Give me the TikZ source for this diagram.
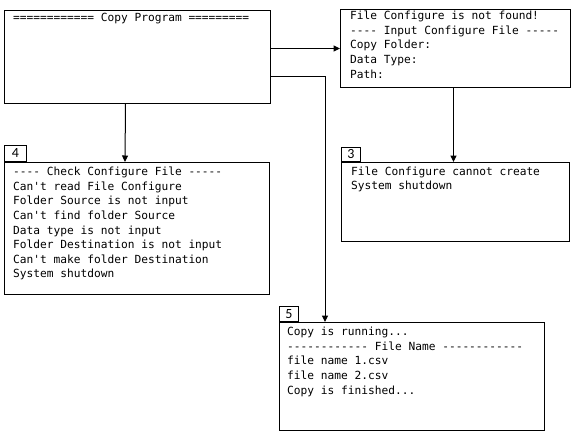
\documentclass[tikz,border=0pt]{standalone}
\usepackage{fontspec}
\setmainfont{Carlito}
\newfontfamily\consfont{DejaVu Sans Mono}
\usetikzlibrary{arrows.meta,positioning}
\tikzset{
  box/.style={draw=black, line width=1pt, anchor=north west, inner sep=0pt, fill=white},
  txt/.style={anchor=north west, inner sep=0pt, align=left,
    font=\consfont\fontsize{11.2}{14.6}\selectfont},
  tag/.style={draw=black, line width=1pt, anchor=south west, inner sep=0pt,
    font=\fontsize{14}{14}\selectfont},
  arr/.style={draw=black, line width=1pt, -{Triangle[length=6.5pt,width=6pt]}},
}
\begin{document}
\begin{tikzpicture}[x=1pt,y=-1pt]
\useasboundingbox[fill=white] (0,0) rectangle (581,445);
% boxes
\node[box, minimum width=266pt, minimum height=93pt] (main) at (4,10) {};
\node[box, minimum width=230pt, minimum height=78pt] (cfg) at (340,9) {};
\node[box, minimum width=265pt, minimum height=132pt] (chk) at (4,162) {};
\node[box, minimum width=228pt, minimum height=79pt] (err) at (341,162) {};
\node[box, minimum width=265pt, minimum height=108pt] (run) at (279,322) {};
% tags
\node[tag, minimum width=22pt, minimum height=16pt] (t4) at (chk.north west) {4};
\node[tag, minimum width=19pt, minimum height=14pt] (t3) at (err.north west) {3};
\node[tag, minimum width=19pt, minimum height=15pt] (t5) at (run.north west) {5};
% texts
\node[txt] (mainT) at ([shift={(9pt,-3pt)}]main.north west) {============ Copy Program =========};
\node[txt] (cfgT) at ([shift={(10pt,-2pt)}]cfg.north west) {File Configure is not found!\\---- Input Configure File -----\\Copy Folder:\\Data Type:\\Path:};
\node[txt] (chkT) at ([shift={(9pt,-5pt)}]chk.north west) {---- Check Configure File -----\\Can't read File Configure\\Folder Source is not input\\Can't find folder Source\\Data type is not input\\Folder Destination is not input\\Can't make folder Destination\\System shutdown};
\node[txt] (errT) at ([shift={(10pt,-4.5pt)}]err.north west) {File Configure cannot create\\System shutdown};
\node[txt] (runT) at ([shift={(8pt,-5pt)}]run.north west) {Copy is running...\\------------ File Name ------------\\file name 1.csv\\file name 2.csv\\Copy is finished...};
% connectors
\coordinate (runIn) at ([xshift=46pt]run.north west);
\draw[arr] (main.east |- cfg.west) -- (cfg.west);
\draw[arr] ([yshift=-19.5pt]main.east) -| (runIn);
\draw[arr] ([xshift=-12pt]main.south) -- ([xshift=-12pt]chk.north);
\draw[arr] ([xshift=-2pt]cfg.south) -- ([xshift=-2pt]cfg.south |- err.north);
\end{tikzpicture}
\end{document}
